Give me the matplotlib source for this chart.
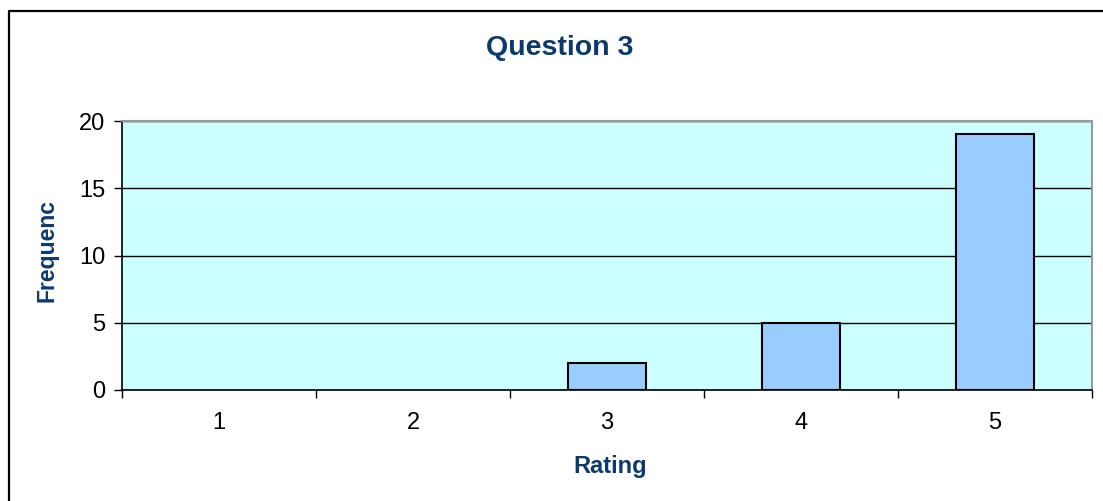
import numpy as np
import matplotlib
matplotlib.use("Agg")
import matplotlib.pyplot as plt
from matplotlib.lines import Line2D

ratings = [1, 2, 3, 4, 5]
frequency = [0, 0, 2, 5, 19]
y_ticks = [0, 5, 10, 15, 20]

navy = "#0B3A6E"
W, H = 1103, 501

plt.rcParams["font.family"] = ["Liberation Sans", "DejaVu Sans"]

fig = plt.figure(figsize=(W / 100, H / 100), dpi=100)
ax = fig.add_axes([122 / W, 1 - 390 / H, (1092 - 122) / W, (390 - 121) / H])
ax.set_facecolor("#CCFFFF")

# zero-height bars leave no visible mark in the original
edge_widths = [1.5 if v > 0 else 0 for v in frequency]
ax.bar(ratings, frequency, width=0.4, color="#99CCFF", edgecolor="black",
       linewidth=edge_widths, zorder=3)

ax.set_xlim(0.5, 5.5)
ax.set_ylim(0, 20)
ax.set_yticks(y_ticks)
ax.yaxis.grid(True, color="black", linewidth=1.0, zorder=1)
ax.set_axisbelow(True)

ax.set_xticks(ratings)
ax.set_xticks(np.arange(0.5, 6, 1), minor=True)
ax.tick_params(axis="x", which="major", length=0, pad=16, labelsize=17)
ax.tick_params(axis="x", which="minor", length=6, width=1, color="black")
ax.tick_params(axis="y", length=6, width=1, pad=6, labelsize=17)

for side in ["left", "bottom"]:
    ax.spines[side].set_color("black")
    ax.spines[side].set_linewidth(1.2)
for side in ["top", "right"]:
    ax.spines[side].set_color("#999999")
    ax.spines[side].set_linewidth(1.5)

fig.text(560 / W, 1 - 48 / H, "Question 3", ha="center", va="center",
         fontsize=20.5, fontweight="bold", color=navy)
fig.text(610 / W, 1 - 466 / H, "Rating", ha="center", va="center",
         fontsize=17, fontweight="bold", color=navy)
fig.text(47 / W, 1 - 251 / H, "Frequenc", ha="center", va="center", rotation=90,
         fontsize=16.5, fontweight="bold", color=navy)

# outer chart border (left and top edges visible)
x0, y0 = 8.5 / W, 1 - 10.5 / H
fig.add_artist(Line2D([x0, x0, 1.0], [0.0, y0, y0], transform=fig.transFigure,
                      color="black", linewidth=1.6))

fig.savefig("out.png", dpi=100)
